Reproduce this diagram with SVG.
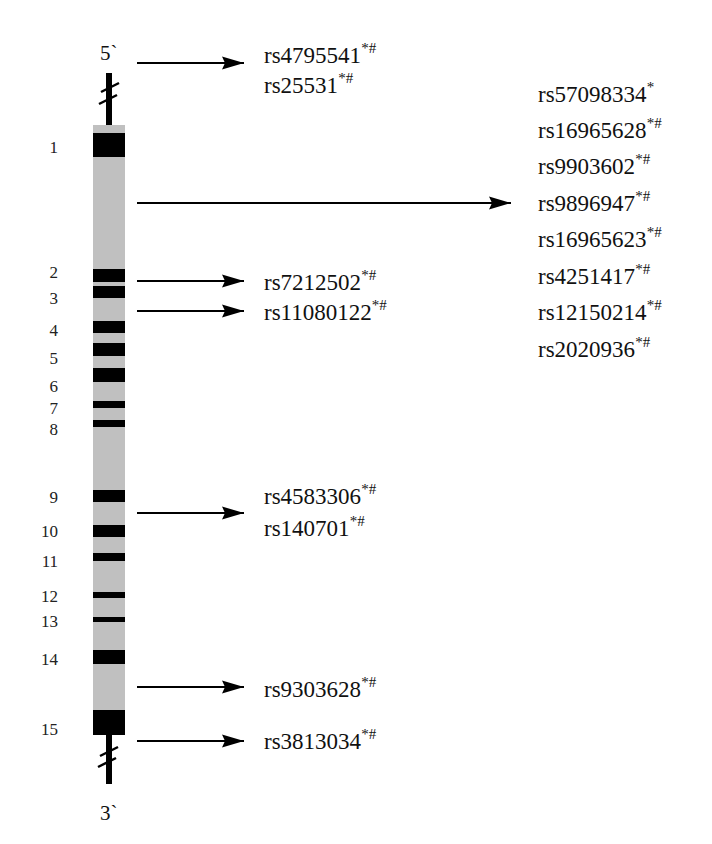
<svg xmlns="http://www.w3.org/2000/svg" width="712" height="844" viewBox="0 0 712 844">
<style>
.lbl{font-family:"Liberation Serif","Times New Roman",serif;font-size:23px;fill:#111}
.sup{font-size:15px}
.num{font-family:"Liberation Serif","Times New Roman",serif;font-size:17px;fill:#222;text-anchor:end}
.end{font-family:"Liberation Serif","Times New Roman",serif;font-size:21px;fill:#111}
.band{fill:#000}
.arrow{stroke:#000;stroke-width:2;fill:none;marker-end:url(#ah)}
.slash{stroke:#000;stroke-width:2.5}
</style>
<defs>
<marker id="ah" markerUnits="userSpaceOnUse" markerWidth="26" markerHeight="16" viewBox="-23 -8 24 16" refX="0" refY="0" orient="auto">
<path d="M0,0 L-22,-6.5 L-19,0 L-22,6.5 Z" fill="#000"/>
</marker>
</defs>
<rect width="712" height="844" fill="#fff"/>
<g id="chromosome">
<rect x="106" y="73" width="6" height="52" fill="#000"/>
<line class="slash" x1="101" y1="92" x2="119" y2="83"/>
<line class="slash" x1="99" y1="104" x2="117" y2="95"/>
<rect x="93" y="125" width="32" height="610" fill="#c0c0c0"/>
<rect class="band" x="93" y="133" width="32" height="24"/>
<rect class="band" x="93" y="269" width="32" height="13"/>
<rect class="band" x="93" y="286" width="32" height="12"/>
<rect class="band" x="93" y="321" width="32" height="12"/>
<rect class="band" x="93" y="343" width="32" height="13"/>
<rect class="band" x="93" y="368" width="32" height="14"/>
<rect class="band" x="93" y="401" width="32" height="7"/>
<rect class="band" x="93" y="420" width="32" height="7"/>
<rect class="band" x="93" y="490" width="32" height="12"/>
<rect class="band" x="93" y="525" width="32" height="12"/>
<rect class="band" x="93" y="553" width="32" height="8"/>
<rect class="band" x="93" y="592" width="32" height="6"/>
<rect class="band" x="93" y="617" width="32" height="5"/>
<rect class="band" x="93" y="650" width="32" height="14"/>
<rect class="band" x="93" y="710" width="32" height="25"/>
<rect x="106" y="735" width="6" height="49" fill="#000"/>
<line class="slash" x1="100" y1="756" x2="118" y2="747"/>
<line class="slash" x1="98" y1="767" x2="116" y2="758"/>
</g>
<g id="ends">
<text class="end" x="100" y="60">5`</text>
<text class="end" x="100" y="820">3`</text>
</g>
<g id="exon-numbers">
<text class="num" x="58" y="153">1</text>
<text class="num" x="58" y="278">2</text>
<text class="num" x="58" y="304">3</text>
<text class="num" x="58" y="336">4</text>
<text class="num" x="58" y="364">5</text>
<text class="num" x="58" y="392">6</text>
<text class="num" x="58" y="414">7</text>
<text class="num" x="58" y="435">8</text>
<text class="num" x="58" y="503">9</text>
<text class="num" x="58" y="537">10</text>
<text class="num" x="58" y="567">11</text>
<text class="num" x="58" y="602">12</text>
<text class="num" x="58" y="627">13</text>
<text class="num" x="58" y="665">14</text>
<text class="num" x="58" y="735">15</text>
</g>
<g id="connectors">
<line class="arrow" x1="137" y1="63" x2="244" y2="63"/>
<line class="arrow" x1="137" y1="203" x2="511" y2="203"/>
<line class="arrow" x1="137" y1="281" x2="244" y2="281"/>
<line class="arrow" x1="137" y1="311" x2="244" y2="311"/>
<line class="arrow" x1="137" y1="513" x2="244" y2="513"/>
<line class="arrow" x1="137" y1="687" x2="244" y2="687"/>
<line class="arrow" x1="137" y1="741" x2="244" y2="741"/>
</g>
<g id="snps-5prime">
<text class="lbl" x="264" y="63">rs4795541<tspan class="sup" dy="-10">*#</tspan></text>
<text class="lbl" x="264" y="93">rs25531<tspan class="sup" dy="-10">*#</tspan></text>
</g>
<g id="snps-intron1">
<text class="lbl" x="538" y="102">rs57098334<tspan class="sup" dy="-10">*</tspan></text>
<text class="lbl" x="538" y="138">rs16965628<tspan class="sup" dy="-10">*#</tspan></text>
<text class="lbl" x="538" y="174">rs9903602<tspan class="sup" dy="-10">*#</tspan></text>
<text class="lbl" x="538" y="211">rs9896947<tspan class="sup" dy="-10">*#</tspan></text>
<text class="lbl" x="538" y="247">rs16965623<tspan class="sup" dy="-10">*#</tspan></text>
<text class="lbl" x="538" y="284">rs4251417<tspan class="sup" dy="-10">*#</tspan></text>
<text class="lbl" x="538" y="320">rs12150214<tspan class="sup" dy="-10">*#</tspan></text>
<text class="lbl" x="538" y="357">rs2020936<tspan class="sup" dy="-10">*#</tspan></text>
</g>
<g id="snps-exon2-3">
<text class="lbl" x="264" y="290">rs7212502<tspan class="sup" dy="-10">*#</tspan></text>
<text class="lbl" x="264" y="320">rs11080122<tspan class="sup" dy="-10">*#</tspan></text>
</g>
<g id="snps-intron9">
<text class="lbl" x="264" y="504">rs4583306<tspan class="sup" dy="-10">*#</tspan></text>
<text class="lbl" x="264" y="536">rs140701<tspan class="sup" dy="-10">*#</tspan></text>
</g>
<g id="snps-3prime">
<text class="lbl" x="264" y="697">rs9303628<tspan class="sup" dy="-10">*#</tspan></text>
<text class="lbl" x="264" y="749">rs3813034<tspan class="sup" dy="-10">*#</tspan></text>
</g>
</svg>
